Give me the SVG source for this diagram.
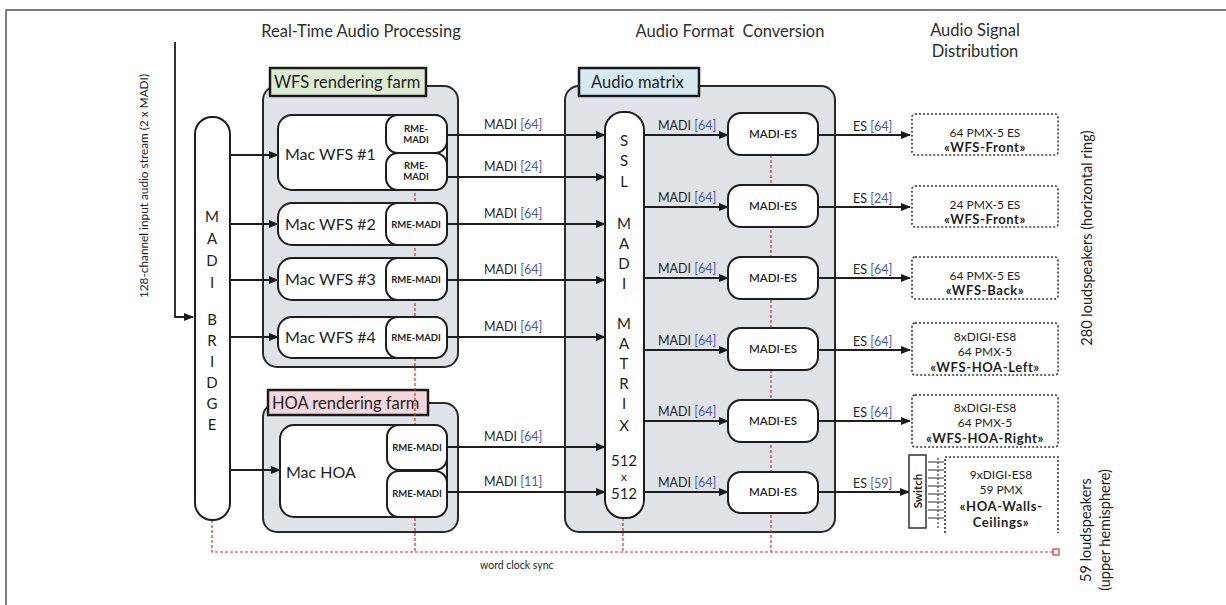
<svg xmlns="http://www.w3.org/2000/svg" width="1226" height="605" viewBox="0 0 1226 605">
<defs>
<marker id="ah" markerWidth="10" markerHeight="8" refX="9" refY="4" orient="auto" markerUnits="userSpaceOnUse">
<path d="M0,0 L10,4 L0,8 Z" fill="#1a1a1a"/>
</marker>
<style>
text{font-family:Lato,"Open Sans","Liberation Sans",sans-serif;fill:#1e1e1e}
.title{font-size:16.5px;text-anchor:middle;fill:#2e2e2e}
.grp{fill:#dfe3e7;stroke:#2a2a2a;stroke-width:2}
.lab{stroke:#1a1a1a;stroke-width:2.5}
.labt{font-size:16.5px}
.node{fill:#fff;stroke:#1e1e1e;stroke-width:2}
.mac{font-size:16px}
.rme{font-size:9.5px;font-weight:bold;text-anchor:middle}
.es{font-size:11.5px;font-weight:600;text-anchor:middle}
.let{font-size:15px;text-anchor:middle}
.conn{stroke:#1e1e1e;stroke-width:1.8;fill:none}
.sync{stroke:#d43030;stroke-width:1.2;stroke-dasharray:3,2;fill:none}
.ml{font-size:12.5px}
.num{fill:#4a5ab0}
.dash{fill:#fff;stroke:#333;stroke-width:1.6;stroke-dasharray:2,2}
.dt{font-size:12px;text-anchor:middle}
.db{font-size:13px;font-weight:bold;text-anchor:middle;letter-spacing:0.6px}
.side{font-size:14.5px;text-anchor:middle}
</style>
</defs>
<rect width="1226" height="605" fill="#fff"/>
<path d="M6,605 V10 H1226" fill="none" stroke="#555" stroke-width="1.5"/>

<g id="titles">
<text class="title" x="361" y="37">Real-Time Audio Processing</text>
<text class="title" x="730" y="37" xml:space="preserve">Audio Format  Conversion</text>
<text class="title" x="975" y="36">Audio Signal</text>
<text class="title" x="975" y="57">Distribution</text>
</g>

<g id="wfs-farm">
<rect class="grp" x="263" y="86" width="195" height="281" rx="14"/>
<rect class="lab" x="270" y="68" width="156" height="28" fill="#dcebd3"/>
<text class="labt" x="274" y="88">WFS rendering farm</text>
</g>
<g id="hoa-farm">
<rect class="grp" x="263" y="403" width="195" height="129" rx="14"/>
<rect class="lab" x="268" y="390" width="160" height="25" fill="#f5d6dc"/>
<text class="labt" x="272" y="409">HOA rendering farm</text>
</g>
<g id="audio-matrix">
<rect class="grp" x="565" y="86" width="270" height="446" rx="14"/>
<rect class="lab" x="579" y="68" width="120" height="28" fill="#d6e9f1"/>
<text class="labt" x="591" y="88">Audio matrix</text>
</g>

<g id="connectors">
<text x="148" y="186" font-size="11.8" text-anchor="middle" transform="rotate(-90 148 186)">128-channel input audio stream (2 x MADI)</text>
<path class="conn" d="M175,42 V317 H193" marker-end="url(#ah)"/>
<path class="conn" d="M230,155 H278" marker-end="url(#ah)"/>
<path class="conn" d="M230,224 H278" marker-end="url(#ah)"/>
<path class="conn" d="M230,280 H278" marker-end="url(#ah)"/>
<path class="conn" d="M230,337 H278" marker-end="url(#ah)"/>
<path class="conn" d="M230,470 H280" marker-end="url(#ah)"/>

<path class="conn" d="M447,135 H605" marker-end="url(#ah)"/>
<path class="conn" d="M447,177 H605" marker-end="url(#ah)"/>
<path class="conn" d="M447,224 H605" marker-end="url(#ah)"/>
<path class="conn" d="M447,280 H605" marker-end="url(#ah)"/>
<path class="conn" d="M447,337 H605" marker-end="url(#ah)"/>
<path class="conn" d="M447,447 H605" marker-end="url(#ah)"/>
<path class="conn" d="M447,492 H605" marker-end="url(#ah)"/>
<text class="ml" x="484" y="129">MADI <tspan class="num">[64]</tspan></text>
<text class="ml" x="484" y="171">MADI <tspan class="num">[24]</tspan></text>
<text class="ml" x="484" y="218">MADI <tspan class="num">[64]</tspan></text>
<text class="ml" x="484" y="274">MADI <tspan class="num">[64]</tspan></text>
<text class="ml" x="484" y="331">MADI <tspan class="num">[64]</tspan></text>
<text class="ml" x="484" y="441">MADI <tspan class="num">[64]</tspan></text>
<text class="ml" x="484" y="486">MADI <tspan class="num">[11]</tspan></text>

<path class="conn" d="M644,135 H728" marker-end="url(#ah)"/>
<path class="conn" d="M644,207 H728" marker-end="url(#ah)"/>
<path class="conn" d="M644,278 H728" marker-end="url(#ah)"/>
<path class="conn" d="M644,350 H728" marker-end="url(#ah)"/>
<path class="conn" d="M644,421 H728" marker-end="url(#ah)"/>
<path class="conn" d="M644,492 H728" marker-end="url(#ah)"/>
<text class="ml" x="658" y="130">MADI <tspan class="num">[64]</tspan></text>
<text class="ml" x="658" y="202">MADI <tspan class="num">[64]</tspan></text>
<text class="ml" x="658" y="273">MADI <tspan class="num">[64]</tspan></text>
<text class="ml" x="658" y="345">MADI <tspan class="num">[64]</tspan></text>
<text class="ml" x="658" y="416">MADI <tspan class="num">[64]</tspan></text>
<text class="ml" x="658" y="487">MADI <tspan class="num">[64]</tspan></text>

<path class="conn" d="M818,135 H910" marker-end="url(#ah)"/>
<path class="conn" d="M818,207 H910" marker-end="url(#ah)"/>
<path class="conn" d="M818,278 H910" marker-end="url(#ah)"/>
<path class="conn" d="M818,350 H910" marker-end="url(#ah)"/>
<path class="conn" d="M818,421 H910" marker-end="url(#ah)"/>
<path class="conn" d="M818,492 H909" marker-end="url(#ah)"/>
<text class="ml" x="853" y="131">ES <tspan class="num">[64]</tspan></text>
<text class="ml" x="853" y="203">ES <tspan class="num">[24]</tspan></text>
<text class="ml" x="853" y="274">ES <tspan class="num">[64]</tspan></text>
<text class="ml" x="853" y="346">ES <tspan class="num">[64]</tspan></text>
<text class="ml" x="853" y="417">ES <tspan class="num">[64]</tspan></text>
<text class="ml" x="853" y="488">ES <tspan class="num">[59]</tspan></text>

<path class="sync" d="M212,520 V552 H1053"/>
<path class="sync" d="M415,188 V552"/>
<path class="sync" d="M623,518 V552"/>
<path class="sync" d="M771,155 V552"/>
<rect x="1053" y="549" width="6" height="6" fill="#fff" stroke="#d43030" stroke-width="1.2"/>
<text x="480" y="569" font-size="10.5">word clock sync</text>
</g>

<g id="madi-bridge">
<rect class="node" x="195" y="117" width="35" height="403" rx="17"/>
<text class="let" x="212" y="222">M</text>
<text class="let" x="212" y="244">A</text>
<text class="let" x="212" y="266">D</text>
<text class="let" x="212" y="288">I</text>
<text class="let" x="212" y="325">B</text>
<text class="let" x="212" y="346">R</text>
<text class="let" x="212" y="367">I</text>
<text class="let" x="212" y="388">D</text>
<text class="let" x="212" y="409">G</text>
<text class="let" x="212" y="430">E</text>
</g>

<g id="mac-wfs-1">
<rect class="node" x="278" y="115" width="169" height="75" rx="14"/>
<rect class="node" x="386" y="115" width="61" height="38" rx="12"/>
<rect class="node" x="386" y="153" width="61" height="37" rx="12"/>
<text class="mac" x="285" y="160">Mac WFS #1</text>
<text class="rme" x="416" y="132">RME-</text>
<text class="rme" x="416" y="143">MADI</text>
<text class="rme" x="416" y="169">RME-</text>
<text class="rme" x="416" y="180">MADI</text>
</g>
<g id="mac-wfs-2">
<rect class="node" x="278" y="203" width="169" height="42" rx="14"/>
<rect class="node" x="386" y="203" width="61" height="42" rx="12"/>
<text class="mac" x="285" y="230">Mac WFS #2</text>
<text class="rme" x="416" y="228">RME-MADI</text>
</g>
<g id="mac-wfs-3">
<rect class="node" x="278" y="258" width="169" height="42" rx="14"/>
<rect class="node" x="386" y="258" width="61" height="42" rx="12"/>
<text class="mac" x="285" y="285">Mac WFS #3</text>
<text class="rme" x="416" y="283">RME-MADI</text>
</g>
<g id="mac-wfs-4">
<rect class="node" x="278" y="317" width="169" height="41" rx="14"/>
<rect class="node" x="386" y="317" width="61" height="41" rx="12"/>
<text class="mac" x="285" y="343">Mac WFS #4</text>
<text class="rme" x="416" y="341">RME-MADI</text>
</g>
<g id="mac-hoa">
<rect class="node" x="280" y="425" width="167" height="92" rx="14"/>
<rect class="node" x="387" y="425" width="60" height="45" rx="12"/>
<rect class="node" x="387" y="471" width="60" height="46" rx="12"/>
<text class="mac" x="286" y="478">Mac HOA</text>
<text class="rme" x="417" y="451">RME-MADI</text>
<text class="rme" x="417" y="497">RME-MADI</text>
</g>

<g id="ssl-madi-matrix">
<rect class="node" x="605" y="112" width="39" height="406" rx="18"/>
<text class="let" x="624" y="146">S</text>
<text class="let" x="624" y="166">S</text>
<text class="let" x="624" y="187">L</text>
<text class="let" x="624" y="229">M</text>
<text class="let" x="624" y="249">A</text>
<text class="let" x="624" y="269">D</text>
<text class="let" x="624" y="289">I</text>
<text class="let" x="624" y="329">M</text>
<text class="let" x="624" y="349">A</text>
<text class="let" x="624" y="369">T</text>
<text class="let" x="624" y="389">R</text>
<text class="let" x="624" y="409">I</text>
<text class="let" x="624" y="431">X</text>
<text class="let" font-size="14"><tspan x="624" y="466">512</tspan><tspan x="624" y="481" font-size="12">x</tspan><tspan x="624" y="499">512</tspan></text>
</g>

<g id="madi-es-1"><rect class="node" x="728" y="113" width="90" height="42" rx="13"/><text class="es" x="773" y="138">MADI-ES</text></g>
<g id="madi-es-2"><rect class="node" x="728" y="185" width="90" height="42" rx="13"/><text class="es" x="773" y="210">MADI-ES</text></g>
<g id="madi-es-3"><rect class="node" x="728" y="257" width="90" height="42" rx="13"/><text class="es" x="773" y="282">MADI-ES</text></g>
<g id="madi-es-4"><rect class="node" x="728" y="328" width="90" height="42" rx="13"/><text class="es" x="773" y="353">MADI-ES</text></g>
<g id="madi-es-5"><rect class="node" x="728" y="400" width="90" height="42" rx="13"/><text class="es" x="773" y="425">MADI-ES</text></g>
<g id="madi-es-6"><rect class="node" x="728" y="472" width="90" height="41" rx="13"/><text class="es" x="773" y="496">MADI-ES</text></g>

<g id="dist-1">
<rect class="dash" x="912" y="114" width="146" height="41" rx="3"/>
<text class="dt" x="985" y="137">64 PMX-5 ES</text>
<text class="db" x="985" y="152">«WFS-Front»</text>
</g>
<g id="dist-2">
<rect class="dash" x="912" y="186" width="146" height="41" rx="3"/>
<text class="dt" x="985" y="209">24 PMX-5 ES</text>
<text class="db" x="985" y="224">«WFS-Front»</text>
</g>
<g id="dist-3">
<rect class="dash" x="912" y="257" width="146" height="42" rx="3"/>
<text class="dt" x="985" y="280">64 PMX-5 ES</text>
<text class="db" x="985" y="295">«WFS-Back»</text>
</g>
<g id="dist-4">
<rect class="dash" x="912" y="323" width="146" height="52" rx="3"/>
<text class="dt" x="985" y="341">8xDIGI-ES8</text>
<text class="dt" x="985" y="356">64 PMX-5</text>
<text class="db" x="985" y="372">«WFS-HOA-Left»</text>
</g>
<g id="dist-5">
<rect class="dash" x="912" y="395" width="146" height="52" rx="3"/>
<text class="dt" x="985" y="412">8xDIGI-ES8</text>
<text class="dt" x="985" y="427">64 PMX-5</text>
<text class="db" x="985" y="443">«WFS-HOA-Right»</text>
</g>
<g id="switch">
<rect x="909" y="455" width="17" height="73" fill="#fff" stroke="#333" stroke-width="1.5"/>
<text x="922" y="491" font-size="11.5" font-weight="bold" text-anchor="middle" transform="rotate(-90 922 491)">Switch</text>
<path d="M928,462 H944 M928,470 H944 M928,478 H944 M928,486 H944 M928,494 H944 M928,502 H944 M928,510 H944 M928,518 H944" stroke="#333" stroke-width="1.2"/>
<path d="M938,458 V528" stroke="#333" stroke-width="1.2" stroke-dasharray="2,2"/>
</g>
<g id="dist-6">
<path class="dash" d="M945,533 V457 H1058 V533" fill="#fff"/>
<text class="dt" x="1001" y="479">9xDIGI-ES8</text>
<text class="dt" x="1001" y="494">59 PMX</text>
<text class="db" x="1001" y="511">«HOA-Walls-</text>
<text class="db" x="1001" y="527">Ceilings»</text>
</g>

<g id="side-labels">
<text class="side" x="1092" y="238" transform="rotate(-90 1092 238)">280 loudspeakers (horizontal ring)</text>
<text class="side" x="1091" y="530" transform="rotate(-90 1091 530)">59 loudspeakers</text>
<text class="side" x="1110" y="530" transform="rotate(-90 1110 530)">(upper hemisphere)</text>
</g>
</svg>
